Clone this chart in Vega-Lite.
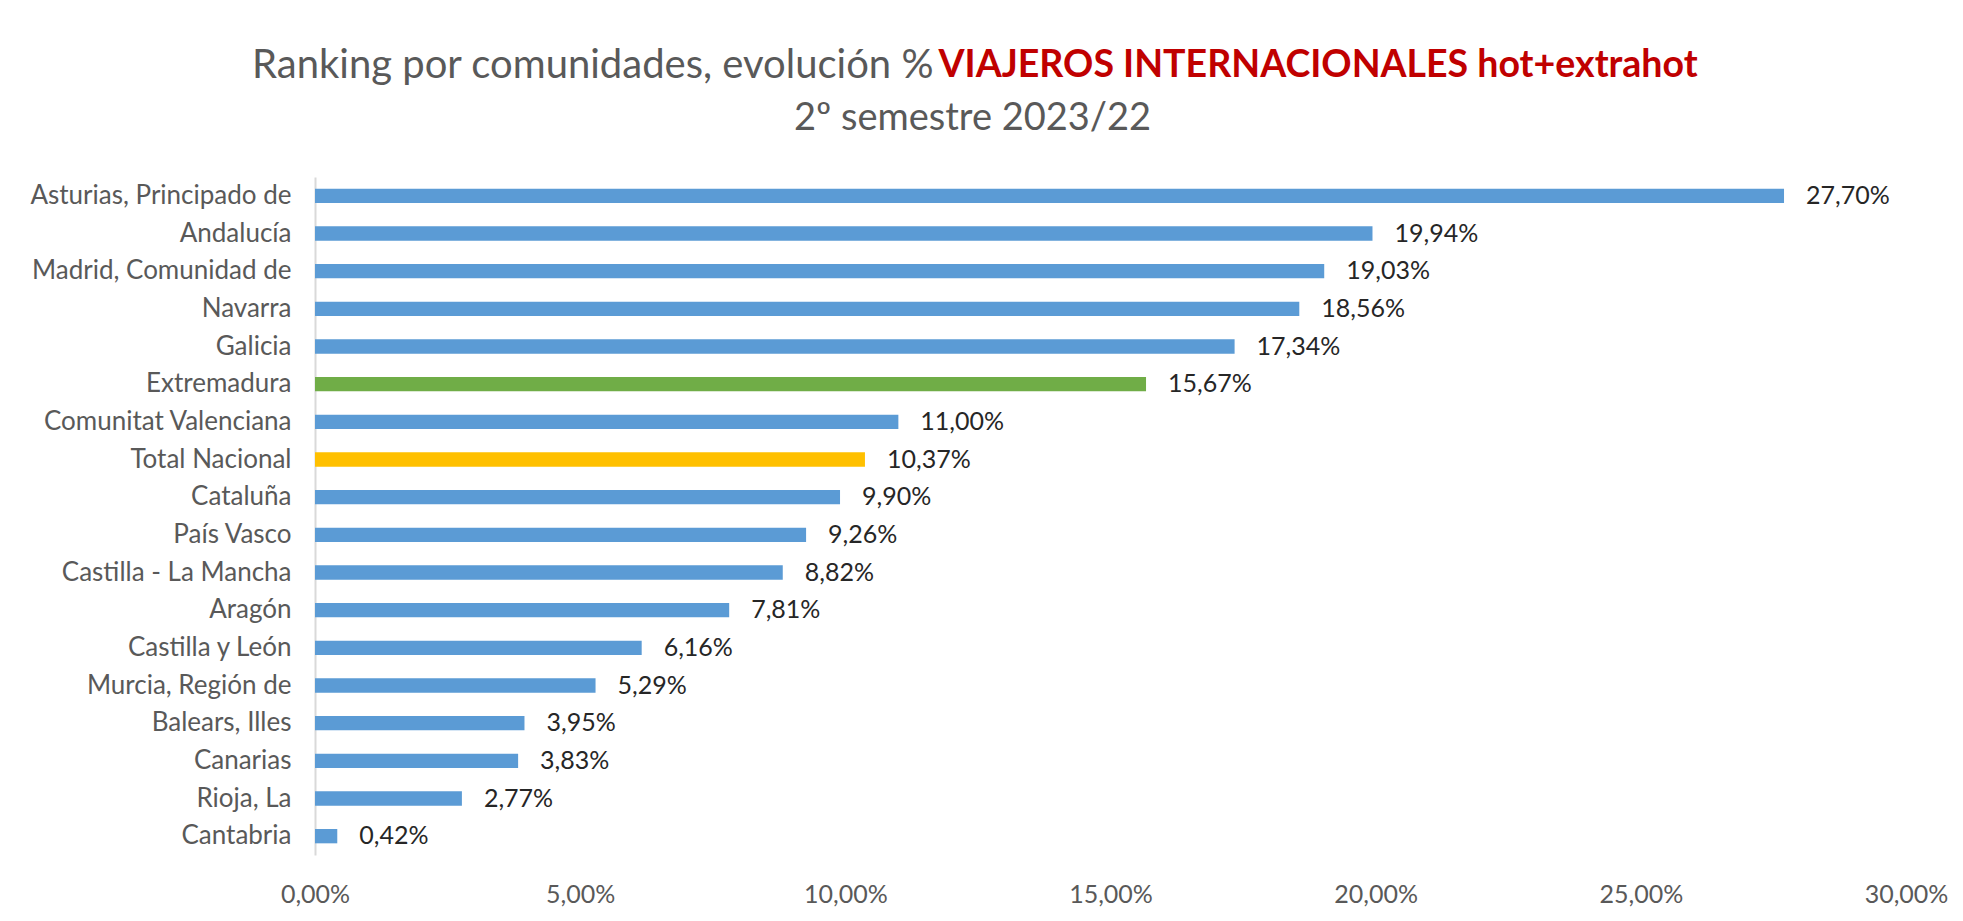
{
  "$schema": "https://vega.github.io/schema/vega-lite/v6.json",
  "width": 1591,
  "height": 678,
  "autosize": {"type": "none"},
  "padding": {"left": 315, "top": 177, "right": 57, "bottom": 66},
  "background": "white",
  "title": {
    "text": "2º semestre 2023/22",
    "anchor": "middle",
    "frame": "group",
    "dx": -138,
    "dy": 112,
    "offset": 0,
    "baseline": "middle",
    "color": "#595959",
    "font": "Lato",
    "fontSize": 38,
    "fontWeight": "normal"
  },
  "data": {
    "values": [
      {"name": "Asturias, Principado de", "value": 0.2770, "grupo": "CCAA"},
      {"name": "Andalucía", "value": 0.1994, "grupo": "CCAA"},
      {"name": "Madrid, Comunidad de", "value": 0.1903, "grupo": "CCAA"},
      {"name": "Navarra", "value": 0.1856, "grupo": "CCAA"},
      {"name": "Galicia", "value": 0.1734, "grupo": "CCAA"},
      {"name": "Extremadura", "value": 0.1567, "grupo": "Extremadura"},
      {"name": "Comunitat Valenciana", "value": 0.1100, "grupo": "CCAA"},
      {"name": "Total Nacional", "value": 0.1037, "grupo": "Total"},
      {"name": "Cataluña", "value": 0.0990, "grupo": "CCAA"},
      {"name": "País Vasco", "value": 0.0926, "grupo": "CCAA"},
      {"name": "Castilla - La Mancha", "value": 0.0882, "grupo": "CCAA"},
      {"name": "Aragón", "value": 0.0781, "grupo": "CCAA"},
      {"name": "Castilla y León", "value": 0.0616, "grupo": "CCAA"},
      {"name": "Murcia, Región de", "value": 0.0529, "grupo": "CCAA"},
      {"name": "Balears, Illes", "value": 0.0395, "grupo": "CCAA"},
      {"name": "Canarias", "value": 0.0383, "grupo": "CCAA"},
      {"name": "Rioja, La", "value": 0.0277, "grupo": "CCAA"},
      {"name": "Cantabria", "value": 0.0042, "grupo": "CCAA"}
    ]
  },
  "encoding": {
    "y": {
      "field": "name",
      "type": "nominal",
      "sort": null,
      "scale": {"paddingInner": 0.62, "paddingOuter": 0.31},
      "axis": {
        "title": "Ranking por comunidades, evolución %",
        "titleAngle": 0,
        "titleX": 618,
        "titleY": -112,
        "titleAlign": "right",
        "titleBaseline": "middle",
        "titleFont": "Lato",
        "titleFontSize": 40,
        "titleFontWeight": "normal",
        "titleColor": "#595959",
        "ticks": false,
        "domain": true,
        "domainColor": "#d9d9d9",
        "domainWidth": 2,
        "labelPadding": 24,
        "labelLimit": 500,
        "labelFont": "Lato",
        "labelFontSize": 26,
        "labelColor": "#595959",
        "grid": false
      }
    },
    "x": {
      "field": "value",
      "type": "quantitative",
      "scale": {"domain": [0, 0.3], "nice": false},
      "axis": {
        "title": "VIAJEROS INTERNACIONALES hot+extrahot",
        "titleX": 623,
        "titleY": -790,
        "titleAlign": "left",
        "titleBaseline": "middle",
        "titleFont": "Lato",
        "titleFontSize": 37.5,
        "titleFontWeight": "bold",
        "titleColor": "#C00000",
        "format": ".2%",
        "values": [0, 0.05, 0.1, 0.15, 0.2, 0.25, 0.3],
        "labelFlush": false,
        "labelOverlap": false,
        "grid": false,
        "domain": false,
        "ticks": false,
        "labelPadding": 27,
        "labelFont": "Lato",
        "labelFontSize": 25,
        "labelColor": "#595959"
      }
    }
  },
  "layer": [
    {
      "mark": {"type": "bar"},
      "encoding": {
        "color": {
          "field": "grupo",
          "type": "nominal",
          "scale": {"domain": ["CCAA", "Extremadura", "Total"], "range": ["#5B9BD5", "#70AD47", "#FFC000"]},
          "legend": null
        }
      }
    },
    {
      "mark": {"type": "text", "align": "left", "baseline": "middle", "dx": 22, "font": "Lato", "fontSize": 25, "color": "#262626"},
      "encoding": {
        "text": {"field": "value", "type": "quantitative", "format": ".2%"}
      }
    }
  ],
  "config": {
    "view": {"stroke": null},
    "locale": {"number": {"decimal": ",", "thousands": ".", "grouping": [3], "currency": ["", " €"]}}
  }
}
